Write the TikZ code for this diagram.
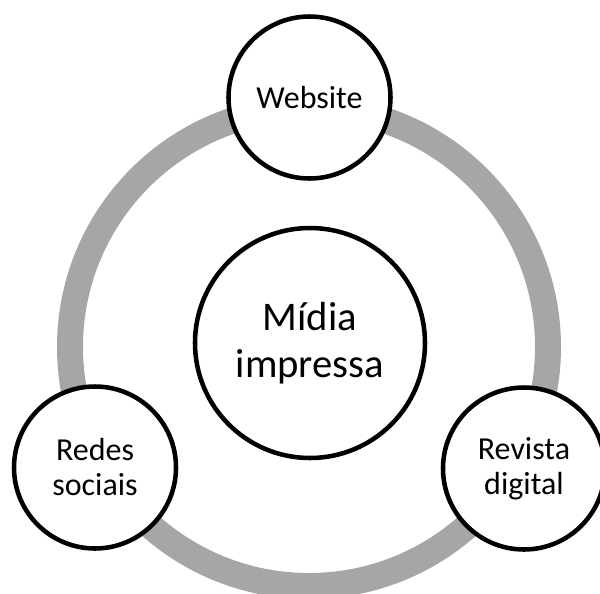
\documentclass[tikz,border=0pt]{standalone}
\usepackage{fontspec}
\setmainfont{Carlito}
\usepackage{tikz}
\usetikzlibrary{positioning}
\definecolor{ringgray}{RGB}{166,166,166}

\begin{document}
\begin{tikzpicture}[
x=0.75pt,y=-0.75pt,
MyRing/.style={draw=ringgray,line width=19.5pt},
MyCircles/.style={circle,draw=black,fill=white,line width=3.4pt,inner sep=0pt,align=center},
Outer/.style={MyCircles,minimum size=121.5pt,font=\fontsize{24}{26.25}\selectfont},
Inner/.style={MyCircles,minimum size=172.5pt,font=\fontsize{30.5}{35.25}\selectfont}
]
\useasboundingbox (0,0) rectangle (600,593);
\clip (0,0) rectangle (600,593);

% the gray ring behind everything
\coordinate (O) at (309,347);
\draw[MyRing] (O) circle (179.25pt);

% centre and the three around it
\node[Inner] (midia) at (310,343) {Mídia\\impressa};
\node[Outer] (web) at (309.5,97.5) {Website};
\node[Outer] (redes) at (95,467.5) {Redes\\sociais};
\node[Outer] (revista) at (524,468.5) {Revista\\digital};

\end{tikzpicture}
\end{document}
